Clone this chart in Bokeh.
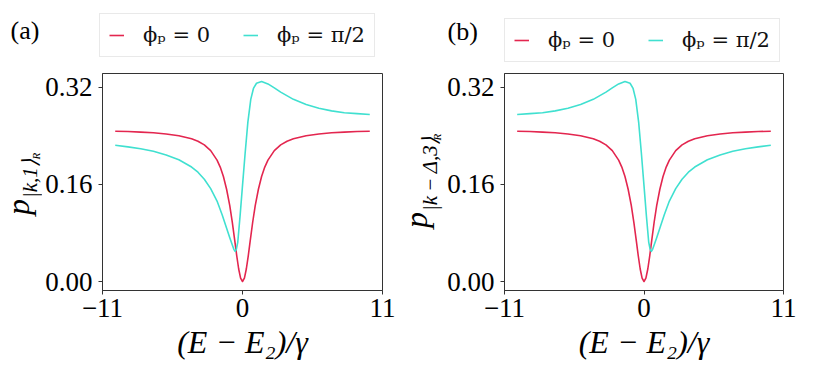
import math
from bokeh.plotting import figure
from bokeh.models import (Range1d, FixedTicker, PrintfTickFormatter, Label,
                          Legend, LegendItem)
from bokeh.layouts import row, column
from bokeh.embed import file_html
from bokeh.resources import INLINE

# ---- data ----
red_x = [-10, -9, -8, -7, -6, -5, -4, -3.5, -3, -2.5, -2, -1.75, -1.5, -1.25, -1,
         -0.8, -0.6, -0.45, -0.3, -0.15, 0, 0.15, 0.3, 0.45, 0.6, 0.8, 1, 1.25,
         1.5, 1.75, 2, 2.5, 3, 3.5, 4, 5, 6, 7, 8, 9, 10]
red_y = [0.2475, 0.247, 0.246, 0.245, 0.243, 0.240, 0.235, 0.231, 0.225, 0.2155,
         0.200, 0.1885, 0.173, 0.152, 0.125, 0.0976, 0.066, 0.042, 0.0206, 0.0055,
         0.0, 0.0055, 0.0206, 0.042, 0.066, 0.0976, 0.125, 0.152, 0.173, 0.1885,
         0.200, 0.2155, 0.225, 0.231, 0.235, 0.240, 0.243, 0.245, 0.246, 0.247,
         0.2475]

cyan_a_x = [-10, -9, -8, -7, -6, -5, -4, -3.5, -3, -2.5, -2, -1.6, -1.3, -1.0, -0.8,
            -0.68, -0.58, -0.48, -0.37, -0.19, 0, 0.21, 0.42, 0.65, 0.86, 1.1, 1.5,
            2.0, 2.5, 3.0, 4.0, 5.0, 6.0, 7.0, 8.0, 9.0, 10]
cyan_a_y = [0.2245, 0.2218, 0.2187, 0.2145, 0.2085, 0.2005, 0.1885, 0.180, 0.1685,
            0.153, 0.1325, 0.110, 0.091, 0.072, 0.060, 0.053, 0.0495, 0.0535, 0.065,
            0.108, 0.158, 0.212, 0.262, 0.300, 0.318, 0.3265, 0.3295, 0.3255, 0.319,
            0.312, 0.300, 0.2915, 0.2855, 0.281, 0.278, 0.2765, 0.275]

cyan_b_x = [-10, -9, -8, -7, -6, -5, -4, -3, -2.5, -2, -1.5, -1.1, -0.86, -0.65,
            -0.42, -0.21, 0, 0.19, 0.37, 0.48, 0.58, 0.68, 0.8, 1.0, 1.3, 1.6, 2,
            2.5, 3, 3.5, 4, 5, 6, 7, 8, 9, 10]
cyan_b_y = [0.275, 0.2765, 0.278, 0.281, 0.2855, 0.2915, 0.300, 0.312, 0.319,
            0.3255, 0.3295, 0.3265, 0.318, 0.300, 0.262, 0.212, 0.158, 0.108, 0.065,
            0.0535, 0.0495, 0.053, 0.060, 0.072, 0.091, 0.110, 0.1325, 0.153, 0.1685,
            0.180, 0.1885, 0.2005, 0.2085, 0.2145, 0.2187, 0.2218, 0.2245]

x_ticks = [-11, 0, 11]
x_tick_labels = ["\u221211", "0", "11"]
y_ticks = [0.0, 0.16, 0.32]
legend_labels = ["\u03d5\u209a = 0", "\u03d5\u209a = \u03c0/2"]
panel_tags = ["(a)", "(b)"]
y_subscripts = ["|k,1\u27e9", "|k\u2009\u2212\u2009\u0394,3\u27e9"]
x_label = "(E \u2212 E\u2082)/\u03b3"

RED = "#E3264F"
CYAN = "#40E0D0"
SERIF = "Liberation Serif"
TOP_H = 68
ROW_H = 300


def blank(width, height):
    f = figure(width=width, height=height, output_backend="svg",
               toolbar_location=None, x_range=Range1d(100, 101),
               y_range=Range1d(100, 101), min_border=0)
    f.xaxis.visible = False
    f.yaxis.visible = False
    f.xgrid.visible = False
    f.ygrid.visible = False
    f.outline_line_color = None
    f.background_fill_color = "white"
    f.border_fill_color = "white"
    return f


def top_strip(width, tag, tag_xy, leg_xy, cx, cy):
    f = blank(width, TOP_H)
    # same series as the panel (outside this strip's view) -> legend samples
    r1 = f.line(red_x, red_y, line_color=RED, line_width=1.6)
    r2 = f.line(cx, cy, line_color=CYAN, line_width=1.6)
    leg = Legend(items=[LegendItem(label=legend_labels[0], renderers=[r1]),
                        LegendItem(label=legend_labels[1], renderers=[r2])],
                 orientation="horizontal", location=leg_xy,
                 label_text_font="DejaVu Serif", label_text_font_size="21px",
                 label_text_color="#111111", label_width=74,
                 glyph_width=15, label_standoff=19, spacing=26, padding=9,
                 margin=0, border_line_color="#d4d4d4", border_line_width=1,
                 background_fill_color="white", background_fill_alpha=1)
    f.add_layout(leg)
    f.add_layout(Label(x=tag_xy[0], y=tag_xy[1], x_units="screen", y_units="screen",
                       text=tag, text_font=SERIF, text_font_size="26px",
                       text_color="black", text_baseline="alphabetic"))
    return f


def ylabel_strip(width, sub, pos):
    f = blank(width, ROW_H)
    (px, py), (sx, sy), (rx, ry) = pos
    a = math.pi / 2
    for (x, y, t, fs) in ((px, py, "p", "32px"), (sx, sy, sub, "21px"),
                          (rx, ry, "R", "11px")):
        f.add_layout(Label(x=x, y=y, x_units="screen", y_units="screen", angle=a,
                           text=t, text_font=SERIF, text_font_size=fs,
                           text_font_style="italic", text_color="black",
                           text_baseline="middle", text_align="left"))
    return f


def main_plot(bleft, fw, bright, cx, cy):
    p = figure(frame_width=fw, frame_height=217, output_backend="svg",
               toolbar_location=None, x_range=Range1d(-11, 11),
               y_range=Range1d(-0.0148, 0.3426),
               min_border_left=bleft, min_border_right=bright,
               min_border_top=5, min_border_bottom=78)
    p.xgrid.visible = False
    p.ygrid.visible = False
    p.outline_line_color = "#333333"
    p.outline_line_width = 1
    p.background_fill_color = "white"
    p.border_fill_color = "white"

    for ax in (p.xaxis[0], p.yaxis[0]):
        ax.major_label_text_font = SERIF
        ax.major_label_text_font_size = "27px"
        ax.major_label_text_color = "black"
        ax.major_tick_out = 4
        ax.major_tick_in = 0
        ax.minor_tick_line_color = None
        ax.axis_line_color = "#333333"
        ax.major_tick_line_color = "#333333"
    p.xaxis[0].ticker = FixedTicker(ticks=x_ticks)
    p.xaxis[0].major_label_overrides = {t: s for t, s in zip(x_ticks, x_tick_labels)}
    p.xaxis[0].major_label_standoff = 4
    p.xaxis[0].axis_label = x_label
    p.xaxis[0].axis_label_text_font = SERIF
    p.xaxis[0].axis_label_text_font_size = "32px"
    p.xaxis[0].axis_label_text_font_style = "italic"
    p.xaxis[0].axis_label_text_color = "black"
    p.xaxis[0].axis_label_standoff = 4
    p.yaxis[0].ticker = FixedTicker(ticks=y_ticks)
    p.yaxis[0].formatter = PrintfTickFormatter(format="%.2f")
    p.yaxis[0].major_label_standoff = 6

    p.line(red_x, red_y, line_color=RED, line_width=1.6, line_join="round")
    p.line(cx, cy, line_color=CYAN, line_width=1.6, line_join="round")
    return p


# panel (a): page x 0..396
top_a = top_strip(396, panel_tags[0], (10, 38), (99, 11), cyan_a_x, cyan_a_y)
ylab_a = ylabel_strip(42, y_subscripts[0], ((17, 75.5), (29, 92.5), (35.5, 131)))
main_a = main_plot(60, 280, 14, cyan_a_x, cyan_a_y)

# panel (b): page x 396..803
top_b = top_strip(407, panel_tags[1], (51, 37), (108, 6), cyan_b_x, cyan_b_y)
ylab_b = ylabel_strip(47, y_subscripts[1], ((19, 62.5), (33, 79.5), (40.5, 150)))
main_b = main_plot(61, 279, 20, cyan_b_x, cyan_b_y)

layout = row(column(top_a, row(ylab_a, main_a)),
             column(top_b, row(ylab_b, main_b)))
open("out.html", "w").write(file_html(layout, INLINE))
